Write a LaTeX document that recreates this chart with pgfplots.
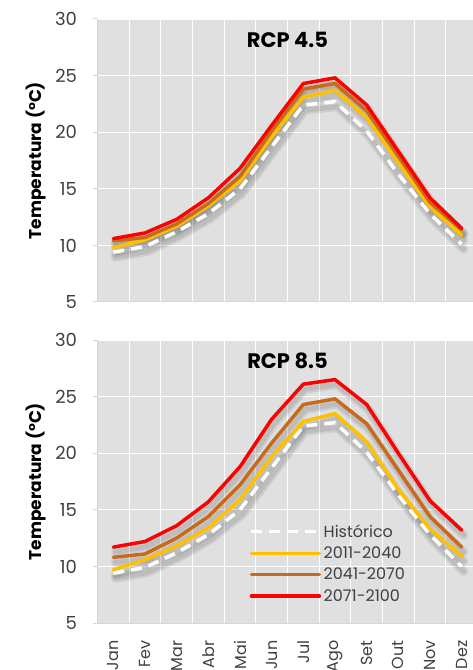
\documentclass[border=0pt]{standalone}
\usepackage{pgfplots}
\usepackage{pgfplotstable}
\pgfplotsset{compat=1.18}
\usepackage{fontspec}
\setmainfont{Poppins}
\definecolor{bg}{HTML}{E0E0E0}
\definecolor{yel}{HTML}{FFC000}
\definecolor{brn}{HTML}{C8691C}
\definecolor{rd}{HTML}{FF0000}
\definecolor{axg}{HTML}{D6D6D6}
\definecolor{txt}{HTML}{404040}

\pgfplotstableread{
m hist y1 y2 y3
0 9.4 9.8 10.4 10.6
1 9.9 10.5 10.7 11.1
2 11.2 11.7 11.9 12.3
3 12.8 13.5 13.7 14.2
4 15.0 15.7 16.1 16.8
5 18.7 19.6 20.1 20.6
6 22.4 23.1 23.8 24.3
7 22.7 23.7 24.3 24.8
8 20.1 21.3 21.9 22.4
9 16.3 17.3 17.9 18.3
10 12.8 13.4 13.8 14.2
11 10.1 10.9 11.4 11.5
}\rcpA

\pgfplotstableread{
m hist y1 y2 y3
0 9.4 9.7 10.8 11.7
1 9.9 10.6 11.1 12.2
2 11.2 11.8 12.5 13.6
3 12.8 13.4 14.4 15.7
4 15.0 15.9 17.2 18.8
5 18.7 19.7 20.9 23.0
6 22.4 22.8 24.3 26.1
7 22.7 23.5 24.8 26.5
8 20.1 21.0 22.6 24.3
9 16.3 16.8 18.5 20.0
10 12.8 13.3 14.4 15.8
11 10.0 10.9 11.7 13.2
}\rcpB

\pgfplotsset{
  panel/.style={
    width=380pt, height=283pt, scale only axis,
    xmin=-0.5, xmax=11.5, ymin=5, ymax=30,
    ytick={5,10,...,30},
    xtick={0,...,11},
    minor xtick={0.5,1.5,...,10.5},
    xminorgrids, ymajorgrids,
    minor grid style={white, line width=0.8pt},
    major grid style={white, line width=0.8pt},
    axis background/.style={fill=bg},
    axis x line*=bottom, axis y line*=left,
    axis line style={axg, line width=1pt, -},
    x tick style={draw=none},
    minor tick length=0pt,
    y tick style={axg, line width=1pt},
    tick align=outside,
    major tick length=5pt,
    /pgf/number format/assume math mode=true,
    y tick label style={font=\fontsize{18}{18}\selectfont, text=txt, xshift=-12pt},
    every axis y label/.style={at={(axis description cs:-0.162,0.5)}, rotate=90, anchor=center,
      font=\fontsize{17}{17}\selectfont\bfseries},
    ylabel={Temperatura (°C)},
    every axis plot/.append style={line join=round, line cap=round},
  },
  shad/.style={black, opacity=0.08, line width=#1, xshift=2pt, yshift=-5pt, forget plot},
  hist/.style={white, line width=3.5pt, dash pattern=on 11pt off 7pt, line cap=butt},
  s1/.style={yel, line width=3.5pt},
  s2/.style={brn, line width=3.5pt},
  s3/.style={rd, line width=3.5pt},
}

\begin{document}
\begin{tikzpicture}
\useasboundingbox (0,0) rectangle (473pt,670pt);

\begin{axis}[panel, at={(97.5pt,368pt)}, anchor=south west, xticklabels={}]
  \foreach \c in {hist,y1,y2,y3}{
    \addplot[shad=9pt] table[x=m,y=\c] {\rcpA};
    \addplot[shad=5pt] table[x=m,y=\c] {\rcpA};
  }
  \addplot[hist] table[x=m,y=hist] {\rcpA};
  \addplot[s1] table[x=m,y=y1] {\rcpA};
  \addplot[s2] table[x=m,y=y2] {\rcpA};
  \addplot[s3] table[x=m,y=y3] {\rcpA};
  \node[font=\fontsize{21}{21}\selectfont\bfseries] at (axis cs:5.5,28.15) {RCP 4.5};
\end{axis}

\begin{axis}[panel, at={(97.5pt,47pt)}, anchor=south west,
    xticklabels={Jan,Fev,Mar,Abr,Mai,Jun,Jul,Ago,Set,Out,Nov,Dez},
    x tick label style={rotate=90, anchor=east, font=\fontsize{16}{16}\selectfont, text=txt, xshift=-9pt},
    legend cell align=left,
    legend style={at={(rel axis cs:0.400,0.357)}, anchor=north west, draw=none, fill=none,
      font=\fontsize{16}{16}\selectfont, text=txt, row sep=3pt, inner sep=0pt,
      nodes={inner sep=2.5pt}},
    legend image code/.code={\draw[#1] (0pt,0pt) -- (68pt,0pt);},
  ]
  \foreach \c in {hist,y1,y2,y3}{
    \addplot[shad=9pt] table[x=m,y=\c] {\rcpB};
    \addplot[shad=5pt] table[x=m,y=\c] {\rcpB};
  }
  \addplot[hist] table[x=m,y=hist] {\rcpB};
  \addplot[s1] table[x=m,y=y1] {\rcpB};
  \addplot[s2] table[x=m,y=y2] {\rcpB};
  \addplot[s3] table[x=m,y=y3] {\rcpB};
  \legend{Histórico,2011-2040,2041-2070,2071-2100}
  \node[font=\fontsize{21}{21}\selectfont\bfseries] at (axis cs:5.5,28.2) {RCP 8.5};
\end{axis}
\end{tikzpicture}
\end{document}
